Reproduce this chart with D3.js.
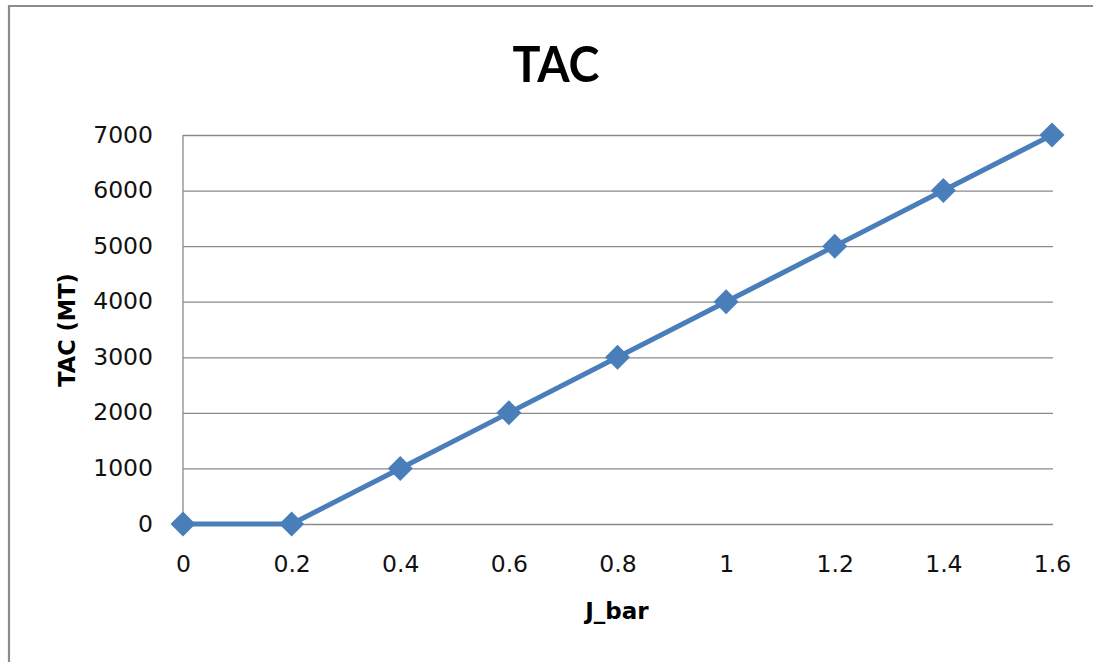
<!DOCTYPE html>
<html>
<head>
<meta charset="utf-8">
<script src="https://cdn.jsdelivr.net/npm/d3@7"></script>
<style>
  html, body { margin: 0; padding: 0; background: #fff; }
  svg { display: block; }
</style>
</head>
<body>
<svg id="chart" width="1093" height="662"></svg>
<script>
const xValues = [0, 0.2, 0.4, 0.6, 0.8, 1, 1.2, 1.4, 1.6];
const tacValues = [0, 0, 1000, 2000, 3000, 4000, 5000, 6000, 7000];
const xTicks = [0, 0.2, 0.4, 0.6, 0.8, 1, 1.2, 1.4, 1.6];
const yTicks = [0, 1000, 2000, 3000, 4000, 5000, 6000, 7000];
const titleText = "TAC";
const xLabel = "J_bar";
const yLabel = "TAC (MT)";

const svg = d3.select("#chart");
const W = 1093, H = 662;
const plot = { left: 183, right: 1052, top: 135, bottom: 524 };
const color = "#4A7EBB";

// outer frame
svg.append("path")
  .attr("d", `M9,${H} V6 H${W}`)
  .attr("fill", "none").attr("stroke", "#8c8c8c").attr("stroke-width", 2.2);

const x = d3.scaleLinear().domain([0, 1.6]).range([plot.left, plot.right]);
const y = d3.scaleLinear().domain([0, 7000]).range([plot.bottom, plot.top]);

// gridlines
const grid = svg.append("g")
  .attr("transform", `translate(${plot.left},0)`)
  .call(d3.axisRight(y).tickValues(yTicks).tickSize(plot.right + 1 - plot.left).tickFormat(""));
grid.select(".domain").remove();
grid.selectAll("line").attr("stroke", "#8a8a8a").attr("stroke-width", 1.3);

// vertical axis line
svg.append("line")
  .attr("x1", plot.left).attr("x2", plot.left)
  .attr("y1", plot.top).attr("y2", plot.bottom)
  .attr("stroke", "#8a8a8a").attr("stroke-width", 1.3);

const tickFont = "'DejaVu Sans', sans-serif";

// y tick labels
const yAx = svg.append("g")
  .attr("transform", `translate(${plot.left},0)`)
  .call(d3.axisLeft(y).tickValues(yTicks).tickSize(0).tickPadding(30).tickFormat(d3.format("d")));
yAx.select(".domain").remove();
yAx.selectAll("text")
  .attr("font-family", tickFont).attr("font-size", 23.5).attr("fill", "#111")
  .attr("dy", "0.3em");

// x tick labels
const xAx = svg.append("g")
  .attr("transform", `translate(0,${plot.bottom})`)
  .call(d3.axisBottom(x).tickValues(xTicks).tickSize(0).tickPadding(0).tickFormat(d => String(d)));
xAx.select(".domain").remove();
xAx.selectAll("text")
  .attr("font-family", tickFont).attr("font-size", 23.5).attr("fill", "#111")
  .attr("dy", null).attr("y", 48);

// line
const line = d3.line().x((d, i) => x(xValues[i])).y(d => y(d));
svg.append("path")
  .datum(tacValues)
  .attr("d", line)
  .attr("fill", "none")
  .attr("stroke", color)
  .attr("stroke-width", 5)
  .attr("stroke-linejoin", "round");

// diamond markers
const r = 12.5;
svg.append("g").selectAll("path")
  .data(tacValues)
  .join("path")
  .attr("transform", (d, i) => `translate(${x(xValues[i])},${y(d)})`)
  .attr("d", `M0,${-r} L${r},0 L0,${r} L${-r},0 Z`)
  .attr("fill", color);

// title
svg.append("text")
  .attr("x", 556).attr("y", 82)
  .attr("text-anchor", "middle")
  .attr("font-family", "Lato, 'Open Sans', sans-serif")
  .attr("font-weight", "bold")
  .attr("font-size", 50)
  .attr("textLength", 87)
  .attr("lengthAdjust", "spacingAndGlyphs")
  .text(titleText);

// x axis label
svg.append("text")
  .attr("x", 617).attr("y", 619)
  .attr("text-anchor", "middle")
  .attr("font-family", tickFont)
  .attr("font-weight", "bold")
  .attr("font-size", 23)
  .text(xLabel);

// y axis label
svg.append("text")
  .attr("transform", "translate(75,330) rotate(-90)")
  .attr("text-anchor", "middle")
  .attr("font-family", tickFont)
  .attr("font-weight", "bold")
  .attr("font-size", 22.5)
  .text(yLabel);
</script>
</body>
</html>
